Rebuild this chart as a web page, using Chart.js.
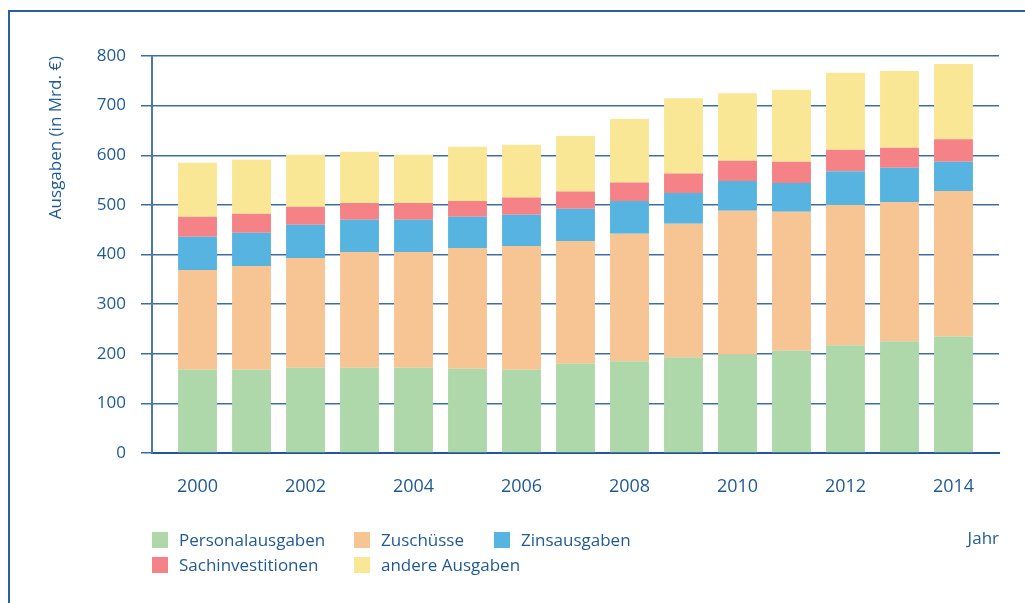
<!DOCTYPE html>
<html>
<head>
<meta charset="utf-8">
<script src="https://cdn.jsdelivr.net/npm/chart.js@4/dist/chart.umd.min.js"></script>
<style>
  html, body { margin: 0; padding: 0; background: #ffffff; overflow: hidden; }
  #wrap { position: relative; width: 1025px; height: 603px; }
  #frame { position: absolute; left: 8px; top: 10px; width: 1040px; height: 620px;
           border-left: 2px solid #2a609a; border-top: 2px solid #2a609a; box-sizing: border-box; }
  canvas { position: absolute; left: 0; top: 0; }
  #legend { position: absolute; left: 152px; top: 527px; display: grid;
            grid-template-columns: 202px 140px auto; grid-auto-rows: 25px;
            font-family: "Open Sans", sans-serif; font-size: 17px; color: #1f5a96; }
  .item { display: flex; align-items: center; white-space: nowrap; }
  .box { width: 16px; height: 16px; margin-right: 11px; flex: none; }
</style>
</head>
<body>
<div id="wrap">
  <div id="frame"></div>
  <canvas id="c" width="1025" height="603"></canvas>
  <div id="legend"></div>
</div>
<script>
// ---- data ----
const years = [2000, 2001, 2002, 2003, 2004, 2005, 2006, 2007, 2008, 2009, 2010, 2011, 2012, 2013, 2014];
const tickYears = [2000, 2002, 2004, 2006, 2008, 2010, 2012, 2014];
const yTicks = [0, 100, 200, 300, 400, 500, 600, 700, 800];
const seriesNames = ["Personalausgaben", "Zuschüsse", "Zinsausgaben", "Sachinvestitionen", "andere Ausgaben"];
const personalausgaben  = [168, 168, 172, 172, 172, 170, 168, 180, 185, 193, 198, 206, 217, 225, 235];
const zuschuesse        = [201, 209, 221, 233, 233, 243, 249, 247, 257, 269, 290, 280, 283, 281, 293];
const zinsausgaben      = [ 67,  67,  67,  65,  65,  63,  63,  65,  66,  62,  60,  58,  68,  69,  59];
const sachinvestitionen = [ 40,  38,  36,  34,  34,  32,  35,  35,  37,  39,  41,  43,  43,  40,  45];
const andereAusgaben    = [109, 109, 105, 103,  97, 109, 106, 112, 128, 152, 136, 145, 155, 155, 152];
const seriesColors = ["#aed8a9", "#f7c493", "#57b4e0", "#f48287", "#fae796"];
const yTitle = "Ausgaben (in Mrd. €)";
const xTitle = "Jahr";

const seriesData = [personalausgaben, zuschuesse, zinsausgaben, sachinvestitionen, andereAusgaben];
const textColor = "#1f5a96";
const gridColor = "#3d6ea3";

const datasets = seriesNames.map((name, i) => ({
  label: name,
  data: seriesData[i],
  backgroundColor: seriesColors[i],
  borderWidth: 0,
  categoryPercentage: 0.8,
  barPercentage: 0.9
}));

new Chart(document.getElementById("c"), {
  type: "bar",
  data: { labels: years, datasets },
  options: {
    responsive: false,
    animation: false,
    layout: { padding: { left: 0, top: 56, right: 26, bottom: 50 } },
    plugins: { legend: { display: false }, tooltip: { enabled: false } },
    scales: {
      x: {
        type: "linear",
        offset: false,
        stacked: true,
        min: years[0] - 0.843,
        max: years[years.length - 1] + 0.843,
        afterBuildTicks: s => { s.ticks = tickYears.map(v => ({ value: v })); },
        afterFit: s => { s.height = 100; },
        grid: { display: false, drawTicks: false },
        border: { display: true, color: "#1f5a96", width: 2 },
        ticks: {
          color: textColor, padding: 23, maxRotation: 0, autoSkip: false,
          font: { family: "Open Sans", size: 18 },
          callback: v => String(v)
        },
        title: {
          display: true, text: xTitle, align: "end", color: textColor,
          font: { family: "Open Sans", size: 17 },
          padding: { top: 0, bottom: 4 }
        }
      },
      y: {
        stacked: true,
        min: yTicks[0],
        max: yTicks[yTicks.length - 1],
        afterBuildTicks: s => { s.ticks = yTicks.map(v => ({ value: v })); },
        afterFit: s => { s.width = 152; },
        grid: { color: gridColor, lineWidth: 1.5, tickLength: 11, drawTicks: true },
        border: { display: true, color: "#4a78aa", width: 2 },
        ticks: { color: textColor, padding: 15, font: { family: "Open Sans", size: 17 } },
        title: {
          display: true, text: yTitle, align: "end", color: textColor,
          font: { family: "Open Sans", size: 17 },
          padding: { top: 46, bottom: 0 }
        }
      }
    }
  }
});

// HTML legend built from the series arrays
const legend = document.getElementById("legend");
seriesNames.forEach((name, i) => {
  const item = document.createElement("div");
  item.className = "item";
  const box = document.createElement("span");
  box.className = "box";
  box.style.background = seriesColors[i];
  const txt = document.createElement("span");
  txt.textContent = name;
  item.appendChild(box);
  item.appendChild(txt);
  legend.appendChild(item);
});
</script>
</body>
</html>
